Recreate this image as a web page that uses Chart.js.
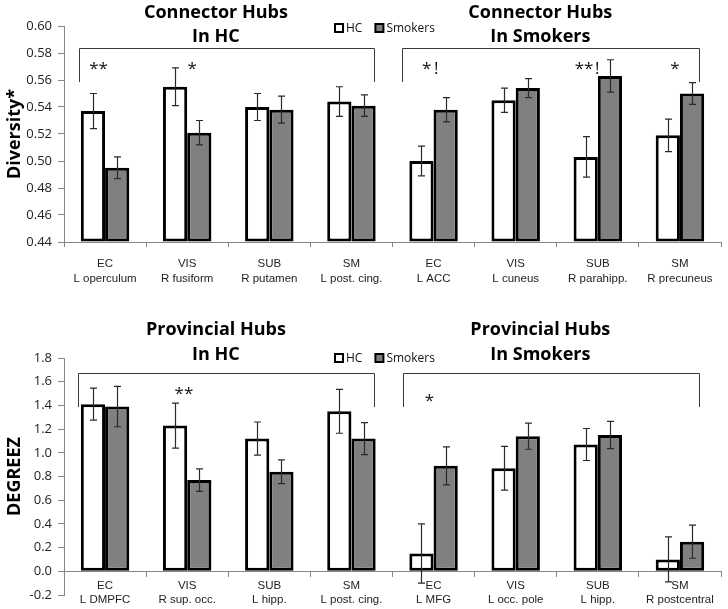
<!DOCTYPE html>
<html>
<head>
<meta charset="utf-8">
<script src="https://cdn.jsdelivr.net/npm/chart.js@4.4.1/dist/chart.umd.min.js"></script>
<style>
  html, body { margin: 0; padding: 0; background: #fff; }
  #wrap { position: relative; width: 728px; height: 609px; }
  canvas { position: absolute; left: 0; }
  #diversity { top: 0; }
  #degree { top: 300px; }
</style>
</head>
<body>
<div id="wrap">
  <canvas id="diversity" width="728" height="300"></canvas>
  <canvas id="degree" width="728" height="309"></canvas>
</div>
<script>
// ---- data ----
const seriesNames = ["HC", "Smokers"];

const diversityCats = [
  ["EC", "L operculum"], ["VIS", "R fusiform"], ["SUB", "R putamen"], ["SM", "L post. cing."],
  ["EC", "L ACC"], ["VIS", "L cuneus"], ["SUB", "R parahipp."], ["SM", "R precuneus"]
];
const diversityHC = [0.537, 0.555, 0.540, 0.544, 0.500, 0.545, 0.503, 0.519];
const diversityHCErr = [0.013, 0.014, 0.010, 0.011, 0.011, 0.009, 0.015, 0.012];
const diversitySmokers = [0.495, 0.521, 0.538, 0.541, 0.538, 0.554, 0.563, 0.550];
const diversitySmokersErr = [0.008, 0.009, 0.010, 0.008, 0.009, 0.007, 0.012, 0.008];

const degreeCats = [
  ["EC", "L DMPFC"], ["VIS", "R sup. occ."], ["SUB", "L hipp."], ["SM", "L post. cing."],
  ["EC", "L MFG"], ["VIS", "L occ. pole"], ["SUB", "L hipp."], ["SM", "R postcentral"]
];
const degreeHC = [1.41, 1.23, 1.12, 1.35, 0.15, 0.87, 1.07, 0.10];
const degreeHCErr = [0.135, 0.19, 0.14, 0.185, 0.25, 0.185, 0.135, 0.19];
const degreeSmokers = [1.39, 0.77, 0.84, 1.12, 0.89, 1.14, 1.15, 0.25];
const degreeSmokersErr = [0.17, 0.095, 0.10, 0.135, 0.16, 0.11, 0.115, 0.14];

// group titles, brackets and significance marks
const diversityTitles = [["Connector Hubs", "In HC"], ["Connector Hubs", "In Smokers"]];
const diversityStars = ["**", "*", "*\u2009!", "**\u200a!", "*"];
const diversityStarAt = [-0.08, 1.06, 3.96, 5.87, 6.94];

const degreeTitles = [["Provincial Hubs", "In HC"], ["Provincial Hubs", "In Smokers"]];
const degreeStars = ["**", "*"];
const degreeStarAt = [0.96, 3.95];

const FONT = '"Open Sans", "DejaVu Sans", sans-serif';
const NARROW = '"Liberation Sans Narrow", "Arial Narrow", "Liberation Sans", sans-serif';
const AXIS_GRAY = '#868686';

// error bars drawn from each dataset's errors array
const errorBars = {
  id: 'errorBars',
  afterDatasetsDraw(chart) {
    const ctx = chart.ctx;
    const yScale = chart.scales.y;
    ctx.save();
    ctx.strokeStyle = '#2a2a2a';
    ctx.lineWidth = 1.2;
    chart.data.datasets.forEach((ds, i) => {
      chart.getDatasetMeta(i).data.forEach((bar, j) => {
        const x = Math.round(bar.x) + 0.5;
        const y1 = yScale.getPixelForValue(ds.data[j] + ds.errors[j]);
        const y2 = yScale.getPixelForValue(ds.data[j] - ds.errors[j]);
        ctx.beginPath();
        ctx.moveTo(x, y1); ctx.lineTo(x, y2);
        ctx.moveTo(x - 3.5, y1); ctx.lineTo(x + 3.5, y1);
        ctx.moveTo(x - 3.5, y2); ctx.lineTo(x + 3.5, y2);
        ctx.stroke();
      });
    });
    ctx.restore();
  }
};

// titles, legend, brackets and stars
const panelNotes = {
  id: 'panelNotes',
  afterDraw(chart, args, opts) {
    const ctx = chart.ctx;
    const xs = chart.scales.x, ys = chart.scales.y;
    ctx.save();

    // group titles
    ctx.fillStyle = '#000';
    ctx.font = 'bold 18px ' + FONT;
    ctx.textAlign = 'center';
    ctx.textBaseline = 'alphabetic';
    opts.titles.forEach((lines, k) => {
      const x = xs.getPixelForValue(opts.titleAt[k]);
      lines.forEach((t, n) => ctx.fillText(t, x, opts.titleY[n]));
    });

    // brackets
    ctx.strokeStyle = '#3a3a3a';
    ctx.lineWidth = 1;
    opts.brackets.forEach(b => {
      const x1 = Math.round(xs.getPixelForValue(b[0])) + 0.5;
      const x2 = Math.round(xs.getPixelForValue(b[1])) + 0.5;
      const yTop = Math.round(ys.getPixelForValue(opts.bracketTop)) + 0.5;
      const yLeg = ys.getPixelForValue(opts.bracketLeg);
      ctx.beginPath();
      ctx.moveTo(x1, yLeg); ctx.lineTo(x1, yTop); ctx.lineTo(x2, yTop); ctx.lineTo(x2, yLeg);
      ctx.stroke();
    });

    // stars
    ctx.font = '17px ' + FONT;
    ctx.fillStyle = '#111';
    opts.stars.forEach((s, k) => {
      ctx.fillText(s, xs.getPixelForValue(opts.starAt[k]), ys.getPixelForValue(opts.starY[k]));
    });

    // legend
    ctx.font = '12px ' + FONT;
    ctx.textAlign = 'left';
    ctx.textBaseline = 'middle';
    let lx = opts.legendX;
    const ly = opts.legendY;
    chart.data.datasets.forEach(ds => {
      ctx.fillStyle = ds.backgroundColor;
      ctx.fillRect(lx + 1, ly - 4, 8, 8);
      ctx.strokeStyle = '#000';
      ctx.lineWidth = 2;
      ctx.strokeRect(lx + 1, ly - 4, 8, 8);
      ctx.fillStyle = '#111';
      ctx.fillText(ds.label, lx + 12, ly + 0.5);
      lx += 12 + ctx.measureText(ds.label).width + 12;
    });
    ctx.restore();
  }
};

function makeDatasets(hc, hcErr, sm, smErr, base) {
  const common = {
    borderColor: '#000',
    borderWidth: 3,
    borderSkipped: false,
    barPercentage: 1.0,
    categoryPercentage: 0.59
  };
  if (base !== undefined) common.base = base;
  return [
    Object.assign({ label: seriesNames[0], data: hc, errors: hcErr, backgroundColor: '#ffffff' }, common),
    Object.assign({ label: seriesNames[1], data: sm, errors: smErr, backgroundColor: '#808080' }, common)
  ];
}

Chart.defaults.animation = false;
Chart.defaults.font.family = FONT;
Chart.defaults.color = '#222';

new Chart(document.getElementById('diversity'), {
  type: 'bar',
  data: {
    labels: diversityCats,
    datasets: makeDatasets(diversityHC, diversityHCErr, diversitySmokers, diversitySmokersErr, 0.44)
  },
  options: {
    responsive: false,
    layout: { padding: { left: 0, right: 7, top: 26, bottom: 0 } },
    plugins: {
      legend: { display: false },
      tooltip: { enabled: false },
      panelNotes: {
        titles: diversityTitles, titleAt: [1.35, 5.3], titleY: [18, 42],
        brackets: [[-0.32, 3.28], [3.62, 7.23]], bracketTop: 0.5834, bracketLeg: 0.5585,
        stars: diversityStars, starAt: diversityStarAt, starY: [0.5645, 0.5645, 0.5645, 0.5645, 0.5645],
        legendX: 334, legendY: 28
      }
    },
    scales: {
      x: {
        afterFit(s) { s.height = 58; },
        grid: { drawOnChartArea: false, tickLength: 5, color: AXIS_GRAY, offset: true },
        border: { color: AXIS_GRAY },
        ticks: { font: { family: NARROW, size: 11.5, lineHeight: 1.25 }, padding: 10, color: '#222', maxRotation: 0, autoSkip: false }
      },
      y: {
        min: 0.44, max: 0.60,
        afterFit(s) { s.width = 64; },
        grid: { drawOnChartArea: false, tickLength: 6, color: AXIS_GRAY },
        border: { color: AXIS_GRAY },
        ticks: { stepSize: 0.02, padding: 6, font: { size: 13 }, color: '#222',
                 callback: v => v.toFixed(2) },
        title: { display: true, text: 'Diversity*', font: { size: 18, weight: 'bold' }, color: '#000', padding: { top: 4, bottom: 0 } }
      }
    }
  },
  plugins: [errorBars, panelNotes]
});

new Chart(document.getElementById('degree'), {
  type: 'bar',
  data: {
    labels: degreeCats,
    datasets: makeDatasets(degreeHC, degreeHCErr, degreeSmokers, degreeSmokersErr)
  },
  options: {
    responsive: false,
    layout: { padding: { left: 0, right: 7, top: 58, bottom: 14 } },
    plugins: {
      legend: { display: false },
      tooltip: { enabled: false },
      panelNotes: {
        titles: degreeTitles, titleAt: [1.35, 5.3], titleY: [35, 60],
        brackets: [[-0.33, 3.27], [3.63, 7.23]], bracketTop: 1.673, bracketLeg: 1.386,
        stars: degreeStars, starAt: degreeStarAt, starY: [1.454, 1.399],
        legendX: 334, legendY: 58
      }
    },
    scales: {
      x: {
        position: { y: 0 },
        grid: { drawOnChartArea: false, tickLength: 5, color: AXIS_GRAY, offset: true },
        border: { color: AXIS_GRAY },
        ticks: { font: { family: NARROW, size: 11.5, lineHeight: 1.25 }, padding: 2, color: '#222', maxRotation: 0, autoSkip: false }
      },
      y: {
        min: -0.2, max: 1.8,
        afterFit(s) { s.width = 64; },
        grid: { drawOnChartArea: false, tickLength: 6, color: AXIS_GRAY },
        border: { color: AXIS_GRAY },
        ticks: { stepSize: 0.2, padding: 6, font: { size: 13 }, color: '#222',
                 callback: v => v.toFixed(1) },
        title: { display: true, text: 'DEGREEZ', font: { size: 18, weight: 'bold' }, color: '#000', padding: { top: 4, bottom: 0 } }
      }
    }
  },
  plugins: [errorBars, panelNotes]
});
</script>
</body>
</html>
